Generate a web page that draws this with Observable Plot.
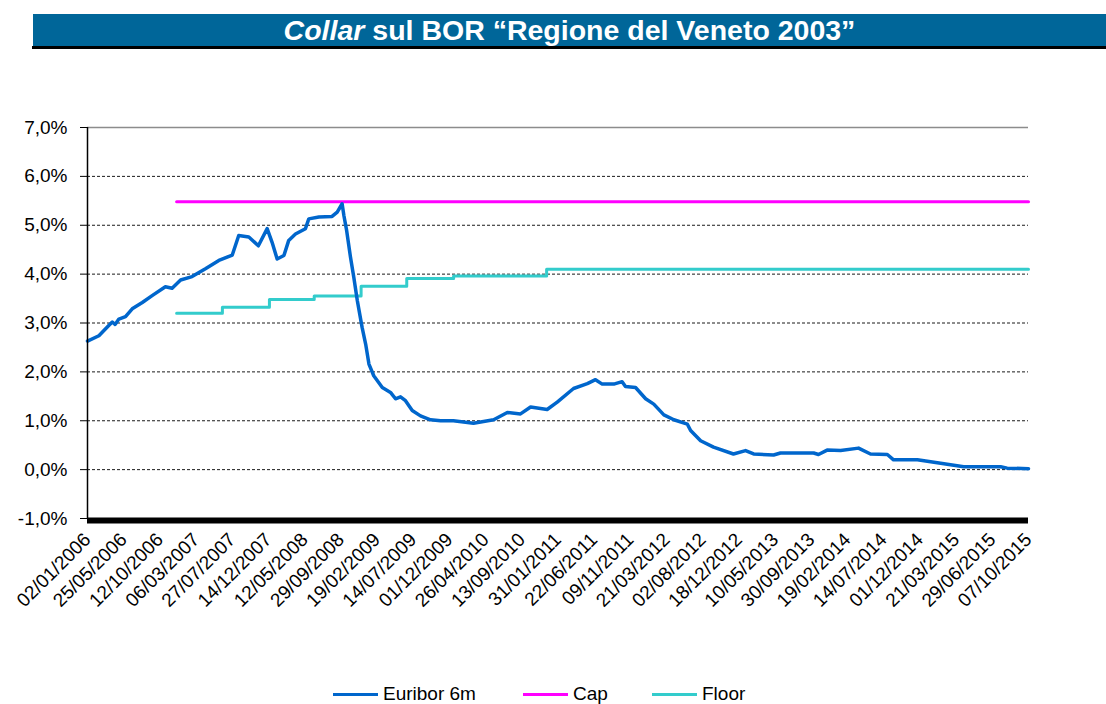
<!DOCTYPE html>
<html>
<head>
<meta charset="utf-8">
<script src="https://cdn.jsdelivr.net/npm/d3@7"></script>
<script src="https://cdn.jsdelivr.net/npm/@observablehq/plot@0.6"></script>
<style>
  body { margin: 0; background: #fff; font-family: Arial, "Liberation Sans", sans-serif; }
  #wrap { position: relative; width: 1106px; height: 704px; overflow: hidden; }
  #title { position: absolute; left: 33px; top: 14px; width: 1073px; height: 33px; background: #006699;
           color: #fff; font-weight: bold; font-size: 28.5px; line-height: 33px; text-align: center; white-space: nowrap; }
  #rule { position: absolute; left: 32px; top: 46px; width: 1074px; height: 3px; background: #000; }
  #chart { position: absolute; left: 0; top: 60px; }
  #legend { position: absolute; top: 684px; left: 0; width: 1106px; height: 20px; font-size: 19px; color: #000; }
  .item { position: absolute; top: 0; height: 20px; display: flex; align-items: center; white-space: nowrap; }
  .sw { width: 45px; height: 3px; margin-right: 5px; }
</style>
</head>
<body>
<div id="wrap">
  <div id="title"><i>Collar</i> sul BOR “Regione del Veneto 2003”</div>
  <div id="rule"></div>
  <div id="chart"></div>
  <div id="legend"></div>
</div>
<script>
// ---- Data ----
const tickLabels = ["02/01/2006","25/05/2006","12/10/2006","06/03/2007","27/07/2007","14/12/2007",
  "12/05/2008","29/09/2008","19/02/2009","14/07/2009","01/12/2009","26/04/2010","13/09/2010",
  "31/01/2011","22/06/2011","09/11/2011","21/03/2012","02/08/2012","18/12/2012","10/05/2013",
  "30/09/2013","19/02/2014","14/07/2014","01/12/2014","21/03/2015","29/06/2015","07/10/2015"];

const yTicks = [-1, 0, 1, 2, 3, 4, 5, 6, 7];
const gridValues = [0, 1, 2, 3, 4, 5, 6];

const seriesNames = ["Euribor 6m", "Cap", "Floor"];
const seriesColors = ["#0066CC", "#FF00FF", "#33CCCC"];

const euriborDates = ["2006-01-02","2006-02-16","2006-03-27","2006-04-10","2006-04-21","2006-05-06",
  "2006-06-01","2006-06-27","2006-08-05","2006-09-12","2006-11-03","2006-11-30","2007-01-03",
  "2007-02-18","2007-04-12","2007-06-04","2007-07-27","2007-08-21","2007-09-29","2007-11-05",
  "2007-12-09","2007-12-29","2008-01-19","2008-02-16","2008-03-07","2008-04-04","2008-05-15",
  "2008-05-28","2008-07-06","2008-08-26","2008-09-15","2008-10-04","2008-10-11","2008-10-22",
  "2008-11-06","2008-11-19","2008-12-03","2008-12-22","2009-01-05","2009-01-18","2009-02-06",
  "2009-03-12","2009-04-14","2009-05-04","2009-05-24","2009-06-13","2009-07-10","2009-08-11",
  "2009-09-19","2009-10-28","2009-12-17","2010-03-08","2010-05-27","2010-07-19","2010-09-08",
  "2010-10-17","2010-12-20","2011-01-28","2011-04-02","2011-05-26","2011-06-27","2011-07-23",
  "2011-09-06","2011-10-08","2011-10-21","2011-11-28","2012-01-04","2012-02-03","2012-03-11",
  "2012-04-17","2012-06-06","2012-06-18","2012-07-25","2012-09-12","2012-11-27","2013-01-13",
  "2013-02-14","2013-05-04","2013-05-31","2013-10-09","2013-10-28","2013-12-01","2014-01-23",
  "2014-04-04","2014-05-22","2014-07-28","2014-08-21","2014-11-21","2015-02-02","2015-04-11",
  "2015-07-22","2015-08-09","2015-10-07"];
const euriborValues = [2.63,2.74,2.95,3.02,2.97,3.08,
  3.13,3.29,3.42,3.56,3.74,3.71,3.88,
  3.95,4.11,4.28,4.39,4.79,4.76,4.58,
  4.93,4.65,4.31,4.38,4.69,4.82,4.93,
  5.13,5.17,5.18,5.27,5.44,5.20,4.89,
  4.35,3.94,3.46,2.91,2.57,2.16,1.92,
  1.68,1.58,1.45,1.49,1.41,1.21,1.10,
  1.02,1.00,1.00,0.95,1.02,1.17,1.14,
  1.28,1.23,1.38,1.66,1.76,1.84,1.75,
  1.75,1.80,1.70,1.68,1.45,1.34,1.12,
  1.02,0.93,0.80,0.59,0.46,0.32,0.39,
  0.32,0.30,0.34,0.34,0.31,0.40,0.39,
  0.44,0.32,0.31,0.20,0.20,0.13,0.06,
  0.06,0.03,0.02];

const capDates = ["2006-12-18", "2015-10-07"];
const capValues = [5.48, 5.48];

const floorDates = ["2006-12-18","2007-06-18","2007-12-18","2008-06-18","2008-12-18",
  "2009-06-18","2009-12-18","2010-12-18","2015-10-07"];
const floorValues = [3.20, 3.32, 3.48, 3.55, 3.75, 3.91, 3.96, 4.10, 4.10];

// ---- Build ----
const parseTick = d3.utcParse("%d/%m/%Y");
const parseIso = d3.utcParse("%Y-%m-%d");
const fmtTick = d3.utcFormat("%d/%m/%Y");
const tickDates = tickLabels.map(parseTick);

const toRows = (dates, values) => dates.map((d, i) => ({date: parseIso(d), value: values[i]}));
const euribor = toRows(euriborDates, euriborValues);
const cap = toRows(capDates, capValues);
const floor = toRows(floorDates, floorValues);

const W = 1106, H = 620, ML = 87, MR = 78, MT = 67, MB = 162;
// category-style axis: the labelled dates are evenly spaced (piecewise time scale)
const xRange = tickDates.map((d, i) => ML + i * (W - ML - MR) / (tickDates.length - 1));

const chart = Plot.plot({
  width: W, height: H,
  marginLeft: ML, marginRight: MR, marginTop: MT, marginBottom: MB,
  style: {fontFamily: "Arial, 'Liberation Sans', sans-serif", fontSize: "19px", color: "#000", background: "transparent"},
  x: {type: "utc", domain: tickDates, range: xRange},
  y: {domain: [-1, 7]},
  marks: [
    Plot.ruleY(gridValues, {stroke: "#000", strokeDasharray: "3,2", strokeWidth: 0.9}),
    Plot.ruleY([7], {stroke: "#8c8c8c", strokeWidth: 1.5}),
    Plot.line(floor, {x: "date", y: "value", curve: "step-after", stroke: seriesColors[2], strokeWidth: 3}),
    Plot.line(cap, {x: "date", y: "value", stroke: seriesColors[1], strokeWidth: 3}),
    Plot.line(euribor, {x: "date", y: "value", stroke: seriesColors[0], strokeWidth: 3.5, strokeLinejoin: "round"}),
    Plot.ruleX([tickDates[0]], {y1: -1, y2: 7, stroke: "#000", strokeWidth: 1.5}),
    Plot.ruleY([-1], {stroke: "#000", strokeWidth: 6, dy: 2}),
    Plot.axisY({ticks: yTicks, tickFormat: d => d.toFixed(1).replace(".", ",") + "%",
      tickSize: 7, tickPadding: 13, fontSize: 19, label: null}),
    Plot.axisX({ticks: tickDates, tickFormat: fmtTick, tickRotate: -45, tickSize: 0,
      tickPadding: 18, fontSize: 19, label: null})
  ]
});
document.getElementById("chart").appendChild(chart);

// ---- Legend ----
const legendLeft = [333, 523, 652];
const legend = document.getElementById("legend");
seriesNames.forEach((name, i) => {
  const it = document.createElement("div");
  it.className = "item";
  it.style.left = legendLeft[i] + "px";
  it.innerHTML = `<div class="sw" style="background:${seriesColors[i]}"></div><span>${name}</span>`;
  legend.appendChild(it);
});
</script>
</body>
</html>
